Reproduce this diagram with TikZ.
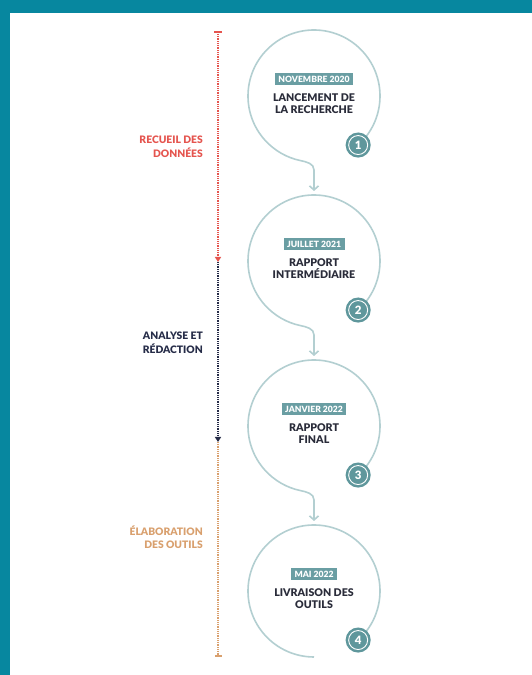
\documentclass[tikz,border=0pt]{standalone}
\usepackage{fontspec}
\setmainfont{Lato}
\newfontfamily\heavyfont{Lato Black}
\usetikzlibrary{arrows.meta,calc}
\definecolor{framec}{HTML}{07879F}
\definecolor{ringc}{HTML}{B3CFD1}
\definecolor{boxc}{HTML}{6A9EA3}
\definecolor{badgec}{HTML}{5F979C}
\definecolor{titlec}{HTML}{2A2C3A}
\definecolor{redc}{HTML}{E5554F}
\definecolor{navyc}{HTML}{262C48}
\definecolor{tanc}{HTML}{D9A06E}
\begin{document}
\begin{tikzpicture}[x=1pt,y=1pt,
  ring/.style={draw=ringc, line width=1.6pt},
  stepc/.style={circle, minimum size=132pt, inner sep=0pt, outer sep=0pt},
  datebox/.style={fill=boxc, text=white, font=\heavyfont\fontsize{8.6}{9}\selectfont, inner xsep=3.5pt, inner ysep=2.6pt},
  titletxt/.style={text=titlec, font=\heavyfont\fontsize{10.6}{12}\selectfont, align=center, inner sep=0pt},
  badge/.style={circle, fill=badgec, draw=white, line width=0.9pt, minimum size=19pt, inner sep=0pt,
    preaction={draw=badgec, line width=6pt}, text=white, font=\heavyfont\fontsize{11.5}{12}\selectfont},
  tl/.style={line width=1.8pt, dash pattern=on 0.9pt off 0.9pt},
  phase/.style={font=\heavyfont\fontsize{10.3}{13.5}\selectfont, align=right, anchor=east, inner sep=0pt},
  flow/.style={ring, -{Straight Barb[length=4pt,width=9pt,line width=1.6pt]}}
]
\useasboundingbox (0,0) rectangle (532,675);
\fill[white] (0,0) rectangle (532,675);
\fill[framec] (0,0) rectangle (10,675);
\fill[framec] (0,662) rectangle (532,675);

% step circles (invisible placeholders)
\node[stepc] (c1) at (314,579) {};
\node[stepc] (c2) at (314,414) {};
\node[stepc] (c3) at (314,249) {};
\node[stepc] (c4) at (314,84) {};

% rings and connectors
\draw[flow] (c1.-48) arc[start angle=-48, end angle=258, radius=66]
  to[out=348,in=90] ($(c1.south)+(0,-8)$) -- ([yshift=4pt]c2.north);
\draw[flow] (c2.-48) arc[start angle=-48, end angle=258, radius=66]
  to[out=348,in=90] ($(c2.south)+(0,-8)$) -- ([yshift=4pt]c3.north);
\draw[flow] (c3.-48) arc[start angle=-48, end angle=258, radius=66]
  to[out=348,in=90] ($(c3.south)+(0,-8)$) -- ([yshift=4pt]c4.north);
\draw[ring] (c4.-48) arc[start angle=-48, end angle=270, radius=66];

% date boxes and titles
\node[datebox] (d1) at ($(c1.center)+(0,17)$) {NOVEMBRE 2020};
\node[titletxt] (n1) at ($(c1.center)+(0,-8)$) {LANCEMENT DE\\LA RECHERCHE};
\node[datebox] (d2) at ($(c2.center)+(0,17)$) {JUILLET 2021};
\node[titletxt] (n2) at ($(c2.center)+(0,-8)$) {RAPPORT\\INTERMÉDIAIRE};
\node[datebox] (d3) at ($(c3.center)+(0,17)$) {JANVIER 2022};
\node[titletxt] (n3) at ($(c3.center)+(0,-8)$) {RAPPORT\\FINAL};
\node[datebox] (d4) at ($(c4.center)+(0,17)$) {MAI 2022};
\node[titletxt] (n4) at ($(c4.center)+(0,-8)$) {LIVRAISON DES\\OUTILS};

% badges
\node[badge] (b1) at (c1.-48) {1};
\node[badge] (b2) at (c2.-48) {2};
\node[badge] (b3) at (c3.-48) {3};
\node[badge] (b4) at (c4.-48) {4};

% timeline
\coordinate (t0) at (218,644);
\coordinate (t1) at (218,413);
\coordinate (t2) at (218,233);
\coordinate (t3) at (218,18);
\draw[tl, draw=redc, {Bar[width=8pt,line width=1.6pt]}-{Triangle[length=5pt,width=6pt]}] (t0) -- (t1);
\draw[tl, draw=navyc, -{Triangle[length=5pt,width=6pt]}] (t1) -- (t2);
\draw[tl, draw=tanc, -{Bar[width=7pt,line width=1.6pt]}] (t2) -- (t3);

% phase labels
\node[phase, text=redc] (p1) at (203,528) {RECUEIL DES\\DONNÉES};
\node[phase, text=navyc] (p2) at (203,332) {ANALYSE ET\\RÉDACTION};
\node[phase, text=tanc] (p3) at (203,138) {ÉLABORATION\\DES OUTILS};
\end{tikzpicture}
\end{document}
